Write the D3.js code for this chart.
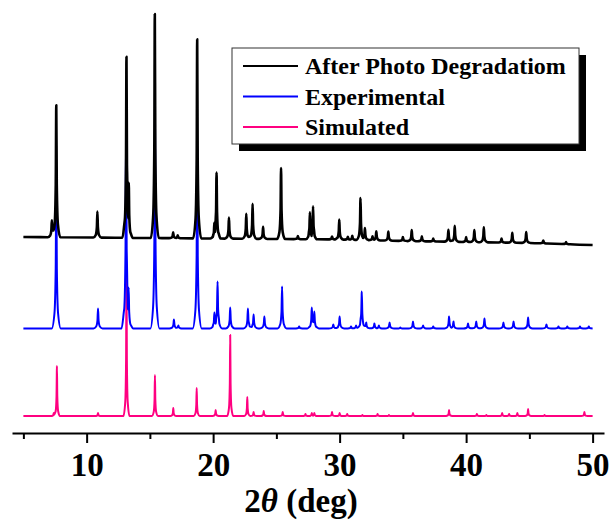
<!DOCTYPE html>
<html>
<head>
<meta charset="utf-8">
<script src="https://cdn.jsdelivr.net/npm/d3@7"></script>
<style>
  body { margin: 0; background: #fff; }
  svg text { font-family: "Liberation Serif", "Times New Roman", serif; font-weight: bold; }
</style>
</head>
<body>
<div id="chart"></div>
<script>
const seriesNames = ['After Photo Degradatiom', 'Experimental', 'Simulated'];
const seriesColors = ['#000000', '#0000ff', '#ff0080'];
const majorTicks = [10, 20, 30, 40, 50];
const minorTicks = [5, 15, 25, 35, 45];
const scanRange = [5, 50];

// peaks as [2θ, height above the trace's own baseline]
const degradedPeaks = [
  [7.25, 17], [7.6, 132], [10.85, 26], [13.15, 181], [13.33, 55], [15.39, 224],
  [16.84, 6], [17.2, 3], [18.74, 199], [20.1, 16], [20.27, 66], [21.25, 21],
  [22.62, 25], [23.12, 35], [23.95, 12], [25.37, 71], [26.7, 3], [27.65, 27],
  [27.9, 33], [29.4, 3], [29.97, 20], [30.65, 3], [31.0, 4], [31.65, 42],
  [32.0, 12], [32.6, 4], [32.9, 9], [33.85, 9], [35.0, 4], [35.7, 11],
  [36.5, 5], [37.4, 3], [38.6, 12], [39.1, 16], [40.0, 5], [40.65, 12],
  [41.4, 15], [42.8, 4], [43.65, 10], [44.75, 11], [46.1, 3], [47.9, 2]
];
const experimentalPeaks = [
  [7.6, 150], [10.9, 20], [13.12, 200], [13.32, 41], [15.4, 220], [16.9, 9],
  [17.25, 3], [18.74, 180], [20.1, 16], [20.35, 47], [21.35, 21], [22.75, 20],
  [23.2, 14], [24.05, 12], [25.45, 42], [26.8, 2], [27.8, 21], [28.0, 17],
  [29.5, 4], [30.0, 12], [30.9, 2], [31.3, 3], [31.75, 37], [32.1, 6],
  [32.75, 5], [33.1, 3], [33.95, 6], [34.8, 1], [35.8, 7], [36.6, 3],
  [37.4, 2], [38.65, 12], [39.0, 7], [40.15, 5], [40.8, 7], [41.45, 10],
  [42.95, 6], [43.75, 7], [44.9, 11], [46.35, 4], [47.3, 2], [48.0, 2],
  [49.0, 2], [49.7, 2]
];
const simulatedPeaks = [
  [7.4, 3], [7.65, 50], [10.9, 3], [13.15, 144], [15.4, 41], [16.85, 8],
  [18.7, 28], [20.2, 6], [21.35, 81], [22.7, 19], [23.2, 4], [24.0, 5],
  [25.5, 4], [27.3, 2], [27.8, 3], [28.0, 3], [29.4, 4], [30.0, 3],
  [30.6, 2], [31.8, 1], [33.0, 2], [33.9, 1], [35.8, 3], [38.65, 6],
  [40.85, 2], [41.6, 1], [42.85, 3], [43.4, 2], [44.05, 3], [44.9, 7],
  [46.2, 1], [49.35, 4]
];

// stacked baseline levels, [2θ, intensity]
const degradedBase = [[5, 196], [20, 194.5], [30, 193.5], [35, 192], [45, 190], [50, 188]];
const experimentalBase = [[5, 104.5], [50, 104.5]];
const simulatedBase = [[5, 17], [50, 17]];

const width = 614, height = 522;

const svg = d3.select('#chart').append('svg')
  .attr('width', width)
  .attr('height', height);

const x = d3.scaleLinear().domain([4.1, 50.9]).range([12, 604]);
const y = d3.scaleLinear().domain([0, 420]).range([433, 13]);

// line profile of a single reflection, in units of its half width
const profile = d3.scaleLinear()
  .domain([-4, -1.6, -0.5, 0, 0.5, 1.6, 4])
  .range([0, 0.1, 0.4, 1, 0.4, 0.1, 0])
  .clamp(true);

function pattern(peaks, base, hw) {
  const floor = d3.scaleLinear().domain(base.map(d => d[0])).range(base.map(d => d[1]));
  const xs = new Set([...scanRange, ...base.map(d => d[0])]);
  peaks.forEach(([p]) => profile.domain().forEach(o => {
    const v = p + o * hw;
    if (v >= scanRange[0] && v <= scanRange[1]) xs.add(+v.toFixed(4));
  }));
  return Array.from(xs).sort((a, b) => a - b).map(t => [
    t,
    floor(t) + d3.max(peaks, ([p, h]) => h * profile((t - p) / hw))
  ]);
}

const traces = [
  { name: seriesNames[2], color: seriesColors[2], data: pattern(simulatedPeaks, simulatedBase, 0.06), lw: 2 },
  { name: seriesNames[1], color: seriesColors[1], data: pattern(experimentalPeaks, experimentalBase, 0.09), lw: 2 },
  { name: seriesNames[0], color: seriesColors[0], data: pattern(degradedPeaks, degradedBase, 0.08), lw: 2.6 }
];

const line = d3.line()
  .x(d => x(d[0]))
  .y(d => y(d[1]))
  .curve(d3.curveMonotoneX);

svg.append('g')
  .selectAll('path')
  .data(traces)
  .join('path')
  .attr('d', d => line(d.data))
  .attr('fill', 'none')
  .attr('stroke', d => d.color)
  .attr('stroke-width', d => d.lw)
  .attr('stroke-linejoin', 'round');

// bottom axis, major and minor ticks
const gx = svg.append('g')
  .attr('transform', `translate(0,${y(0)})`)
  .call(d3.axisBottom(x).tickValues(majorTicks).tickFormat(d3.format('d'))
    .tickSize(10).tickSizeOuter(0).tickPadding(10));
gx.select('.domain').attr('stroke-width', 2);
gx.selectAll('.tick line').attr('stroke-width', 2);
gx.selectAll('.tick text')
  .attr('font-size', 33)
  .attr('fill', '#000')
  .style('font-family', '"Liberation Serif", serif');

const gm = svg.append('g')
  .attr('transform', `translate(0,${y(0)})`)
  .call(d3.axisBottom(x).tickValues(minorTicks).tickFormat('').tickSize(6).tickSizeOuter(0));
gm.select('.domain').remove();
gm.selectAll('.tick line').attr('stroke-width', 2);

const title = svg.append('text')
  .attr('x', 301)
  .attr('y', 512)
  .attr('text-anchor', 'middle')
  .attr('font-size', 33);
title.append('tspan').text('2');
title.append('tspan').attr('font-style', 'italic').text('θ');
title.append('tspan').text(' (deg)');

// legend with drop shadow
const legend = svg.append('g');
legend.append('rect')
  .attr('x', 239).attr('y', 55)
  .attr('width', 347).attr('height', 96)
  .attr('fill', '#000');
legend.append('rect')
  .attr('x', 232).attr('y', 48)
  .attr('width', 347).attr('height', 96)
  .attr('fill', '#fff')
  .attr('stroke', '#333')
  .attr('stroke-width', 1);

const rows = legend.selectAll('g.row')
  .data(seriesNames.map((n, i) => ({ name: n, color: seriesColors[i] })))
  .join('g')
  .attr('class', 'row')
  .attr('transform', (d, i) => `translate(0,${66 + i * 30.5})`);
rows.append('line')
  .attr('x1', 243).attr('x2', 298)
  .attr('stroke', d => d.color)
  .attr('stroke-width', 2);
rows.append('text')
  .attr('x', 305)
  .attr('y', 8)
  .attr('font-size', 24)
  .text(d => d.name);
</script>
</body>
</html>
